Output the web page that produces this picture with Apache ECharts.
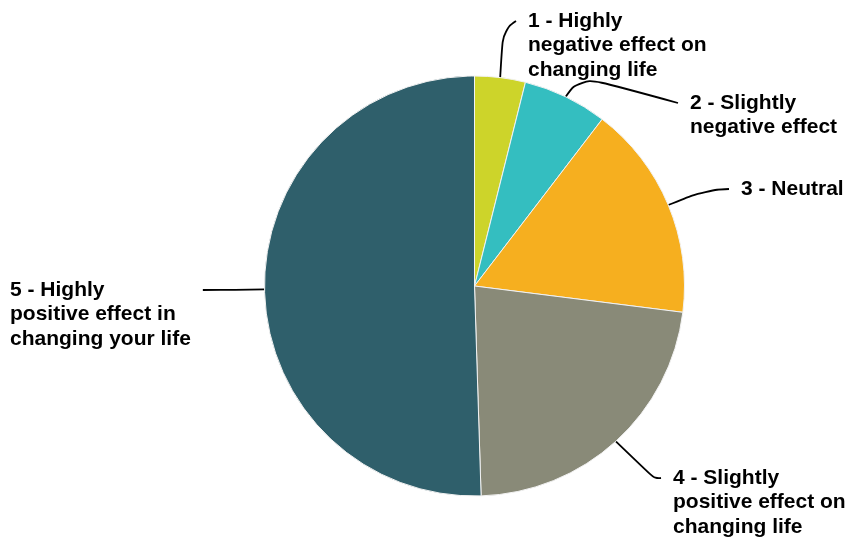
<!DOCTYPE html>
<html>
<head>
<meta charset="utf-8">
<script src="https://cdn.jsdelivr.net/npm/echarts@6/dist/echarts.min.js"></script>
<style>
html,body{margin:0;padding:0;background:#fff;}
#chart{width:846px;height:542px;}
</style>
</head>
<body>
<div id="chart"></div>
<script>
// Data
var categories = [
  "1 - Highly\nnegative effect on\nchanging life",
  "2 - Slightly\nnegative effect",
  "3 - Neutral",
  "4 - Slightly\npositive effect on\nchanging life",
  "5 - Highly\npositive effect in\nchanging your life"
];
var values = [3.9, 6.5, 16.6, 22.5, 50.5];
var colors = ["#CDD42A", "#34BEC0", "#F6AF1F", "#898A78", "#2F5F6B"];

// Label layout (text left x, first-line middle y, leader elbow, side)
var labelAnchors = [
  {x: 528, y: 21, elbow: [503, 30], side: 'right'},
  {x: 690, y: 103, elbow: [580, 76], side: 'right'},
  {x: 741, y: 189, elbow: [705, 190], side: 'right'},
  {x: 673, y: 478, elbow: [655, 479], side: 'right'},
  {x: 10, y: 290, elbow: [235, 290], side: 'left'}
];
var FONT = 21, LH = 24.5;

var chart = echarts.init(document.getElementById('chart'), null, {renderer: 'canvas'});
chart.setOption({
  animation: false,
  backgroundColor: '#ffffff',
  series: [{
    type: 'pie',
    center: [474.5, 286],
    radius: 210,
    startAngle: 90,
    clockwise: true,
    avoidLabelOverlap: false,
    data: categories.map(function (c, i) {
      return {name: c, value: values[i], itemStyle: {color: colors[i]}};
    }),
    itemStyle: {borderColor: '#f2f2f2', borderWidth: 1},
    label: {
      show: true,
      position: 'outside',
      formatter: '{b}',
      color: '#000',
      fontFamily: 'Liberation Sans, Arial, sans-serif',
      fontWeight: 'bold',
      fontSize: FONT,
      lineHeight: LH,
      align: 'left'
    },
    labelLine: {
      show: true,
      smooth: 0.5,
      length: 20,
      length2: 20,
      lineStyle: {color: '#000', width: 1.8}
    },
    labelLayout: function (p) {
      var a = labelAnchors[p.dataIndex];
      var start = p.labelLinePoints ? p.labelLinePoints[0] : [0, 0];
      var endX = a.side === 'right' ? a.x - 12 : a.x + p.labelRect.width + 12;
      return {
        x: a.x,
        y: a.y - LH / 2,
        align: 'left',
        verticalAlign: 'top',
        labelLinePoints: [start, a.elbow, [endX, a.y]]
      };
    }
  }]
});
</script>
</body>
</html>
